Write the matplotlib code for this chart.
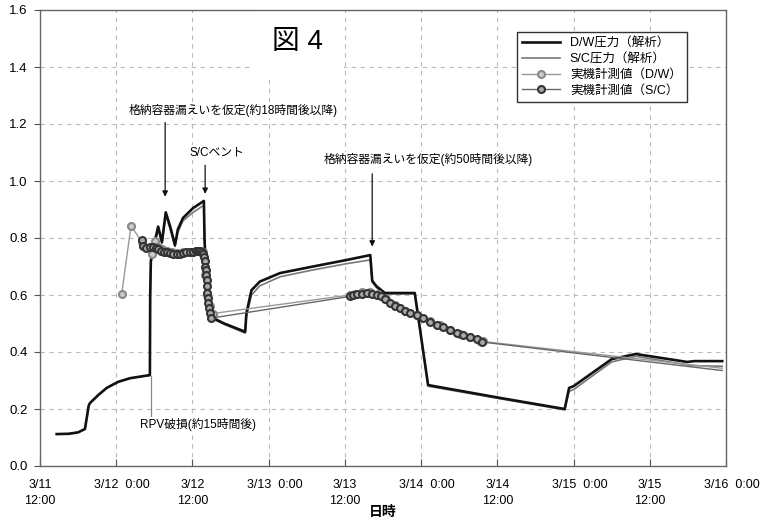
import matplotlib
matplotlib.use("Agg")
import matplotlib.pyplot as plt
import matplotlib.transforms as mtransforms

plt.rcParams['font.family'] = ['Liberation Sans', 'Noto Sans CJK JP']

# time in hours since 3/11 12:00
dw_calc_t = [2.63, 4.5, 6.0, 7.08, 7.67, 7.87, 9.18, 10.5, 12.28, 14.17, 17.3,
             17.35, 17.45, 17.8, 18.2, 18.6, 19.2, 19.8, 20.5, 21.25, 21.7, 22.5,
             24.1, 25.8, 25.9, 26.2, 26.8, 29.0, 32.3, 32.5, 33.3, 34.6, 37.8,
             43.0, 48.3, 52.0, 52.3, 53.0, 54.3, 59.0, 61.1, 72.4, 82.6, 83.3,
             84.0, 90.0, 93.8, 101.9, 103.0, 107.4]
dw_calc_v = [0.112, 0.113, 0.118, 0.13, 0.212, 0.221, 0.249, 0.274, 0.295, 0.308, 0.319,
             0.60, 0.72, 0.76, 0.80, 0.84, 0.786, 0.89, 0.84, 0.775, 0.83, 0.87,
             0.905, 0.93, 0.80, 0.62, 0.524, 0.50, 0.471, 0.537, 0.617, 0.647, 0.677,
             0.70, 0.723, 0.74, 0.65, 0.63, 0.607, 0.607, 0.284, 0.239, 0.20, 0.274,
             0.28, 0.375, 0.393, 0.365, 0.368, 0.368]

sc_calc_t = [2.63, 4.5, 6.0, 7.08, 7.67, 7.87, 9.18, 10.5, 12.28, 14.17, 17.3,
             17.35, 17.45, 17.8, 18.2, 18.6, 19.2, 19.8, 20.5, 21.25, 21.7, 22.5,
             24.1, 25.8, 25.9, 26.2, 26.8, 29.0, 32.3, 32.5, 33.3, 34.6, 37.8,
             43.0, 48.3, 52.0, 52.3, 53.0, 54.3, 59.0, 61.1, 72.4, 82.6, 83.3,
             84.0, 90.0, 93.8, 101.9, 103.0, 107.4]
sc_calc_v = [0.112, 0.113, 0.118, 0.13, 0.212, 0.221, 0.249, 0.274, 0.295, 0.308, 0.318,
             0.59, 0.71, 0.75, 0.79, 0.83, 0.78, 0.88, 0.83, 0.77, 0.82, 0.86,
             0.89, 0.915, 0.79, 0.61, 0.52, 0.497, 0.466, 0.525, 0.600, 0.632, 0.664,
             0.688, 0.71, 0.723, 0.645, 0.625, 0.604, 0.604, 0.28, 0.236, 0.197, 0.262,
             0.268, 0.365, 0.385, 0.355, 0.352, 0.35]

dw_meas_t = [12.86, 14.33, 16.0, 17.6, 18.1, 18.6, 19.2, 20.0, 20.8, 21.6, 22.5,
             23.6, 24.6, 25.2, 25.7, 26.0, 26.3, 26.8, 27.2,
             48.8, 49.6, 50.7, 52.0, 53.2, 54.5, 55.9, 57.5, 59.4, 61.4, 63.0,
             64.5, 66.1, 67.7, 69.3, 69.7, 107.4]
dw_meas_v = [0.603, 0.843, 0.787, 0.744, 0.789, 0.77, 0.76, 0.755, 0.75, 0.748, 0.75,
             0.752, 0.755, 0.755, 0.75, 0.67, 0.60, 0.56, 0.535,
             0.60, 0.605, 0.61, 0.61, 0.605, 0.585, 0.565, 0.545, 0.53, 0.51, 0.495,
             0.478, 0.463, 0.452, 0.44, 0.437, 0.343]

sc_meas_t = [16.0, 16.2, 16.7, 17.3, 17.8, 18.3, 18.6, 19.0, 19.5, 20.0, 20.5, 20.9,
             21.6, 22.0, 22.5, 23.0, 23.6, 24.1, 24.6, 24.9, 25.2, 25.5, 25.7, 25.8,
             26.0, 26.05, 26.1, 26.2, 26.25, 26.3, 26.32, 26.4, 26.45, 26.6, 26.8, 27.0,
             48.8, 49.3, 49.9, 50.7, 51.5, 52.3, 53.1, 53.7, 54.3, 55.1, 55.9, 56.7,
             57.5, 58.3, 59.4, 60.3, 61.4, 62.5, 63.4, 64.5, 65.6, 66.6, 67.7, 68.8,
             69.6, 107.4]
sc_meas_v = [0.793, 0.772, 0.765, 0.77, 0.77, 0.765, 0.76, 0.755, 0.75, 0.751, 0.748, 0.745,
             0.744, 0.745, 0.748, 0.75, 0.752, 0.752, 0.753, 0.754, 0.754, 0.75, 0.745, 0.735,
             0.72, 0.70, 0.688, 0.67, 0.653, 0.63, 0.607, 0.59, 0.572, 0.555, 0.537, 0.519,
             0.595, 0.60, 0.605, 0.605, 0.608, 0.605, 0.60, 0.595, 0.585, 0.572, 0.562, 0.554,
             0.545, 0.537, 0.53, 0.52, 0.506, 0.496, 0.488, 0.477, 0.467, 0.46, 0.452, 0.445,
             0.435, 0.335]

x_ticks = [0, 12, 24, 36, 48, 60, 72, 84, 96, 108]
x_ticklabels = ['3/11\n12:00', '3/12  0:00', '3/12\n12:00', '3/13  0:00', '3/13\n12:00',
                '3/14  0:00', '3/14\n12:00', '3/15  0:00', '3/15\n12:00', '3/16  0:00']
y_ticks = [0.0, 0.2, 0.4, 0.6, 0.8, 1.0, 1.2, 1.4, 1.6]

legend_labels = ['D/W圧力（解析）', 'S/C圧力（解析）', '実機計測値（D/W）', '実機計測値（S/C）']

fig = plt.figure(figsize=(7.67, 5.2), dpi=100)
ax = fig.add_axes([40/767, 1-466/520, 686/767, 456/520])

l1, = ax.plot(dw_calc_t, dw_calc_v, color='#111111', lw=1.9, zorder=3)
l2, = ax.plot(sc_calc_t, sc_calc_v, color='#777777', lw=1.2, zorder=2.9)
l3, = ax.plot(dw_meas_t, dw_meas_v, color='#999999', lw=1.0, marker='o', ms=5,
              mfc='#cccccc', mec='#888888', mew=1.5, zorder=4,
              markevery=list(range(len(dw_meas_t) - 1)))
l4, = ax.plot(sc_meas_t, sc_meas_v, color='#666666', lw=1.0, marker='o', ms=5,
              mfc='#aaaaaa', mec='#333333', mew=1.5, zorder=4.1,
              markevery=list(range(len(sc_meas_t) - 1)))

ax.set_xlim(0, 108)
ax.set_ylim(0, 1.6)
ax.set_xticks(x_ticks)
ax.set_xticklabels(x_ticklabels, fontsize=9, linespacing=1.45)
ax.set_yticks(y_ticks)
ax.set_yticklabels([f'{v:.1f}' for v in y_ticks], fontsize=9.5)
ax.tick_params(axis='x', direction='in', length=5, pad=9, color='#555555')
ax.tick_params(axis='y', direction='out', length=4, pad=5, color='#555555')
ax.grid(True, ls=(0, (4, 4)), color='#bbbbbb', lw=0.8, zorder=0)
for s in ax.spines.values():
    s.set_color('#666666')
    s.set_linewidth(1.0)
    s.set_zorder(7)

# shift the single-line midnight labels slightly right, as in the reference
shift = mtransforms.ScaledTranslation(6/100, 0, fig.dpi_scale_trans)
for lab in ax.get_xticklabels():
    if '\n' not in lab.get_text():
        lab.set_transform(lab.get_transform() + shift)

ax.set_xlabel('日時', fontsize=10, fontweight='bold', labelpad=-1)

ax.text(40.6, 1.488, '図 4', fontsize=20, ha='center', va='center', zorder=5,
        bbox=dict(facecolor='white', edgecolor='none', pad=15))

arrow_kw = dict(arrowstyle='-|>', color='#111111', lw=0.9, mutation_scale=8)
ax.text(30.5, 1.249, '格納容器漏えいを仮定(約18時間後以降)', fontsize=8.5, ha='center',
        va='center', zorder=5, bbox=dict(facecolor='white', edgecolor='none', pad=1))
ax.annotate('', xy=(19.7, 0.935), xytext=(19.7, 1.215), arrowprops=arrow_kw, zorder=5)

ax.text(27.9, 1.10, 'S/Cベント', fontsize=8.5, ha='center', va='center', zorder=5,
        bbox=dict(facecolor='white', edgecolor='none', pad=1))
ax.annotate('', xy=(26.0, 0.945), xytext=(26.0, 1.065), arrowprops=arrow_kw, zorder=5)

ax.text(61.1, 1.074, '格納容器漏えいを仮定(約50時間後以降)', fontsize=8.5, ha='center',
        va='center', zorder=5, bbox=dict(facecolor='white', edgecolor='none', pad=1))
ax.annotate('', xy=(52.3, 0.76), xytext=(52.3, 1.035), arrowprops=arrow_kw, zorder=5)

ax.text(24.9, 0.144, 'RPV破損(約15時間後)', fontsize=8.5, ha='center', va='center', zorder=5,
        bbox=dict(facecolor='white', edgecolor='none', pad=1))
ax.plot([17.5, 17.5], [0.175, 0.315], color='#888888', lw=0.9, zorder=2.5)

leg = ax.legend([l1, l2, l3, l4], legend_labels, loc='upper left',
                bbox_to_anchor=(0.695, 0.952), fontsize=9, frameon=True,
                fancybox=False, edgecolor='#333333', framealpha=1,
                handlelength=3.0, borderpad=0.45, labelspacing=0.3, handletextpad=0.8,
                borderaxespad=0)
leg.get_frame().set_linewidth(1.0)
leg.set_zorder(6)

fig.savefig('out.png', dpi=100)
